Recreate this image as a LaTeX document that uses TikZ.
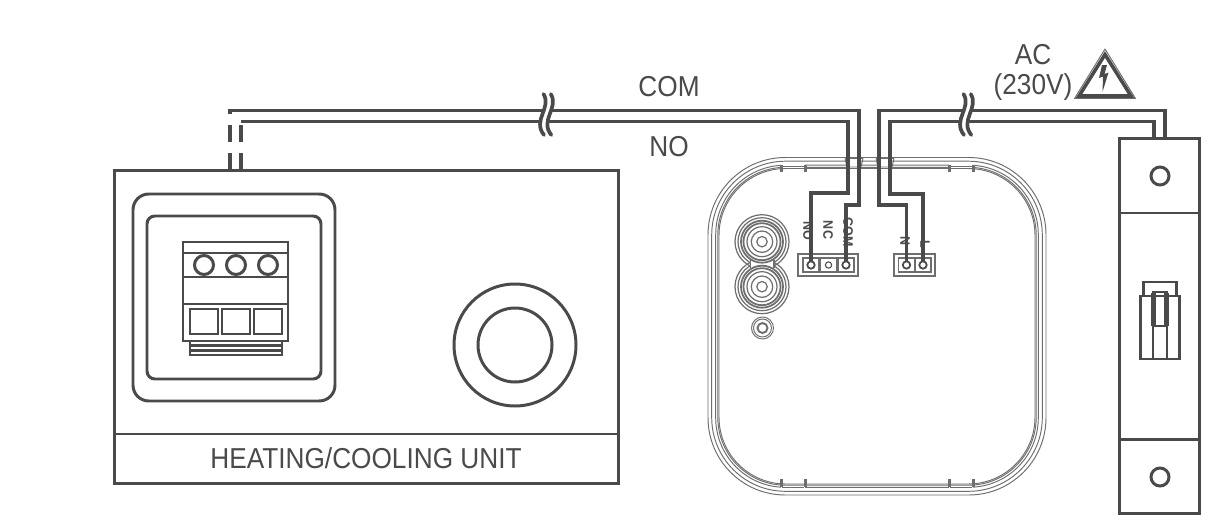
\documentclass[tikz,border=0pt]{standalone}
\usepackage{fontspec}
\setmainfont{Liberation Sans}[FakeStretch=0.91]
\usetikzlibrary{positioning,calc}
\definecolor{ink}{HTML}{4A4A4A}
\definecolor{shell}{HTML}{6E6E6E}
\tikzset{
	wire/.style={draw=ink,line width=2pt},
	outline/.style={draw=ink,line width=1.7pt},
	shellline/.style={draw=shell,line width=0.55pt},
	box/.style={outline,rectangle,inner sep=0pt,outer sep=0pt},
	pin/.style={draw=ink,line width=1pt,circle,fill=white,inner sep=0pt,outer sep=0pt,minimum size=4.2pt},
	label/.style={text=ink,font=\fontsize{16.4}{18}\selectfont,inner sep=0pt},
	pinlabel/.style={text=ink,font=\fontsize{7.8}{8}\selectfont\bfseries,inner sep=0pt,rotate=-90}
}
\begin{document}
\begin{tikzpicture}[x=0.02cm,y=-0.02cm]
	\useasboundingbox (0,0) rectangle (1214,521);
	% heating/cooling unit
	\node[box,minimum width=287.3pt,minimum height=178.7pt] (unit) at (366.5,327) {};
	\coordinate (unitbar) at (114,434);
	\draw[outline] (unitbar) -- (unitbar -| unit.east);
	\node[label] (unitname) at (366,458) {HEATING/COOLING UNIT};
	\draw[outline,rounded corners=9pt] (133,194) rectangle (335,401);
	\draw[outline,rounded corners=4.5pt] (147,216) rectangle (321,379);
	\draw[outline] (183,242) rectangle (288,341);
	\foreach \ly in {253,277,304}
		\draw[outline] (183,\ly) -- (288,\ly);
	\foreach \cx in {204,236,268} {
		\draw[outline] (\cx,265) circle (9.5);
		\draw[outline,line width=1.5pt] (\cx-14,309) rectangle (\cx+14,334);
	}
	\draw[outline] (190,341) rectangle (282,355);
	\foreach \ly in {345.5,350.5}
		\draw[outline,line width=1.4pt] (190,\ly) -- (282,\ly);
	\draw[outline] (515,345) circle (61);
	\draw[outline] (515,345) circle (37);
	% thermostat shell
	\foreach \ins/\rad in {0/44,3.7/42,7.7/39.5,9.8/38.5,11/38}
		\draw[shellline,rounded corners=\rad pt] (708+\ins,157.5+\ins) rectangle (1046-\ins,495-\ins);
	\foreach \tx/\ta/\tb in {0/165/172,168/165/172,0/487/479,168/487/479} {
		\fill[white] (781+\tx,\ta-1) rectangle (805+\tx,\ta+3);
		\fill[white] (781+\tx,\tb) rectangle (805+\tx,\tb+1);
		\fill[shell] (779.5+\tx,\ta) rectangle (782.5+\tx,\tb);
		\fill[shell] (803.5+\tx,\ta) rectangle (806.5+\tx,\tb);
	}
	\draw[shellline] (782,166) -- (804,166) (950,166) -- (972,166);
	\draw[shellline] (782,487) -- (804,487) (950,487) -- (972,487);
	\foreach \nx in {847,878} {
		\fill[white] (\nx,158.5) rectangle (\nx+14,168);
		\draw[shellline] (\nx-2,158.5) -- (\nx+16,158.5) (\nx+16,158.5) -- (\nx+14,167) -- (\nx,167) -- (\nx-2,158.5);
	}
	% knobs
	\foreach \ky in {241.7,286.7}
		\foreach \kr in {27,24}
			\draw[shellline,line width=0.7pt] (762,\ky) circle (\kr);
	\fill[white] (751,258) rectangle (773,271);
	\draw[shellline,line width=0.7pt] (750.5,260) -- (750.5,268) (774,260) -- (774,268);
	\foreach \ky in {241.7,286.7} {
		\foreach \kr in {15,10.7,5.2}
			\draw[shellline,line width=0.7pt] (762,\ky) circle (\kr);
		\draw[shell,line width=1pt] (762,\ky) circle (21);
		\draw[shell,line width=1pt] (762,\ky) circle (18.5);
	}
	\foreach \kr in {11,9}
		\draw[shellline] (762.5,328) circle (\kr);
	\draw[shell,line width=1.1pt] (762.5,328) circle (5);
	% terminals
	\draw[shellline,line width=0.8pt] (798,254) rectangle (858,276);
	\draw[shellline,line width=0.8pt] (894,254) rectangle (935,276);
	\foreach \tx in {811,828.5,846,906.5,923}
		\draw[shellline,line width=0.8pt] (\tx-8,258) rectangle (\tx+8,272);
	\node[pin] (pinNO) at (811,265) {};
	\node[pin,line width=0.6pt,minimum size=3.6pt] (pinNC) at (828.5,265) {};
	\node[pin] (pinCOM) at (846,265) {};
	\node[pin] (pinN) at (906.5,265) {};
	\node[pin] (pinL) at (923,265) {};
	\node[pinlabel] (nameNO) at (808,231) {NO};
	\node[pinlabel] (nameNC) at (828,230) {NC};
	\node[pinlabel] (nameCOM) at (848,232) {COM};
	\node[pinlabel] (nameN) at (905,241) {N};
	\node[pinlabel] (nameL) at (925,244) {L};
	% breaker
	\node[box,minimum width=45pt,minimum height=213.9pt] (breaker) at (1159.5,326) {};
	\coordinate (brkbar1) at (1120,213);
	\coordinate (brkbar2) at (1120,439.5);
	\coordinate (feedN) at (1154,138);
	\coordinate (feedL) at (1165,138);
	\draw[outline] (brkbar1) -- (brkbar1 -| breaker.east);
	\draw[outline] (brkbar2) -- (brkbar2 -| breaker.east);
	\draw[outline] (1160,176) circle (9);
	\draw[outline] (1160,477) circle (9);
	\draw[outline] (1143,296) -- (1143,282) -- (1176,282) -- (1176,296);
	\draw[outline] (1140,296) rectangle (1179,359);
	\draw[outline,line width=2.4pt] (1153.5,293) -- (1153.5,326) (1166.5,293) -- (1166.5,326);
	\draw[outline] (1152,292) -- (1168,292) (1152,326) -- (1168,326);
	\draw[outline,line width=1.2pt] (1153,326) -- (1153,359) (1167,326) -- (1167,359);
	% wires
	\coordinate (unitCOM) at (230,170);
	\coordinate (unitNO) at (241,170);
	\draw[wire] (pinCOM) |- (859,205) |- (230,110.7) -- (230,114);
	\draw[wire] (pinNO) |- (848,193) |- (241,121.7);
	\draw[wire] (230,125) -- (230,142) (241,125) -- (241,142);
	\draw[wire] (230,153) -- (unitCOM) (241,153) -- (unitNO);
	\draw[wire] (pinN) |- (879,205) |- (1165,110.7) -- (feedL);
	\draw[wire] (pinL) |- (890,194) |- (1154,121.7) -- (feedN);
	\foreach \bx in {0,420} {
		\fill[white,shift={(\bx,0)}] (543.5,94) .. controls (552,108) and (532,120) .. (544,135) -- (551,135) .. controls (539,120) and (559,108) .. (550.5,94) -- cycle;
		\foreach \bo in {0,7.3}
			\draw[wire,line width=2.1pt,line cap=round,shift={(\bx+\bo,0)}] (543.5,94) .. controls (552,108) and (532,120) .. (544,135);
	}
	\node[label] (com) at (669,87) {COM};
	\node[label] (no) at (669,147) {NO};
	\node[label] (ac) at (1033,55) {AC};
	\node[label] (volt) at (1033,87) {(230V)};
	% warning sign
	\draw[shellline,line join=round] (1105,49) -- (1074.5,98.5) -- (1135.5,98.5) -- cycle;
	\draw[outline,line width=2pt,line join=miter] (1105,54.5) -- (1079,96) -- (1131,96) -- cycle;
	\fill[ink] (1102,65) -- (1099,78) -- (1103,76.5) -- (1102.5,92) -- (1108.5,72.5) -- (1104.5,74) -- (1107,65) -- cycle;
\end{tikzpicture}
\end{document}
